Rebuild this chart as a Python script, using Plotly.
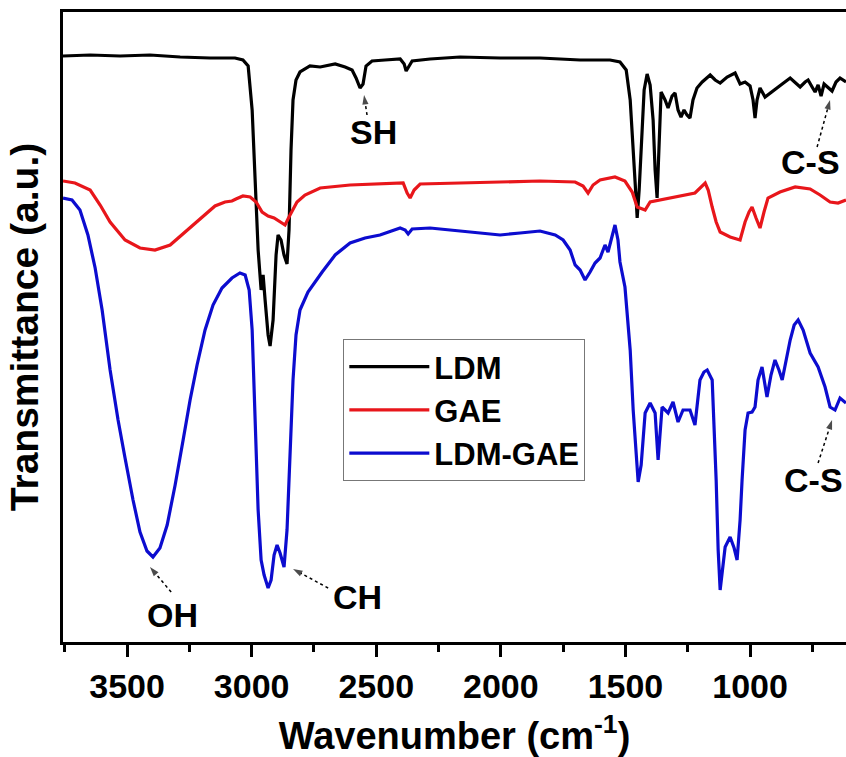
import plotly.graph_objects as go

# ---------------- data (wavenumber in cm-1, transmittance in a.u.) ----------------
ldm_wn = [3757, 3648, 3528, 3408, 3287, 3167, 3067, 3035, 3014, 2998, 2986, 2974, 2962, 2954, 2946,
          2934, 2926, 2914, 2902, 2894, 2882, 2870, 2858, 2850, 2842, 2834, 2822, 2806, 2766, 2725,
          2665, 2625, 2597, 2581, 2565, 2553, 2541, 2517, 2465, 2404, 2388, 2380, 2368, 2356, 2284,
          2164, 2003, 1843, 1682, 1562, 1522, 1497, 1481, 1469, 1457, 1453, 1445, 1433, 1425, 1413,
          1401, 1389, 1381, 1373, 1365, 1357, 1341, 1329, 1313, 1301, 1289, 1277, 1265, 1253, 1241,
          1229, 1213, 1192, 1160, 1140, 1120, 1092, 1060, 1040, 1020, 1000, 988, 980, 972, 960,
          940, 920, 900, 871, 839, 819, 799, 779, 767, 751, 739, 727, 715, 703, 687,
          671, 655, 639, 615]
ldm_t = [586, 587, 586, 587, 585, 584, 584, 582, 576, 532, 462, 392, 352, 367, 342,
         307, 296, 322, 387, 407, 402, 387, 378, 412, 492, 542, 562, 570, 576, 575,
         578, 575, 572, 564, 554, 558, 576, 581, 582, 583, 578, 571, 576, 581, 583,
         585, 584, 584, 582, 582, 580, 572, 542, 497, 442, 424, 452, 512, 552, 568,
         557, 522, 472, 444, 502, 550, 542, 534, 546, 549, 532, 525, 532, 527, 524,
         542, 554, 560, 567, 562, 559, 565, 569, 558, 560, 556, 542, 524, 542, 554,
         545, 549, 552, 558, 564, 559, 555, 560, 562, 555, 550, 557, 546, 558, 554,
         551, 560, 564, 560]

gae_wn = [3757, 3709, 3648, 3608, 3568, 3508, 3448, 3388, 3327, 3267, 3207, 3147, 3107, 3079, 3063,
          3035, 3006, 2982, 2958, 2934, 2910, 2886, 2866, 2846, 2818, 2786, 2725, 2605, 2485, 2392,
          2376, 2364, 2348, 2324, 2164, 2003, 1843, 1702, 1670, 1650, 1630, 1602, 1542, 1502, 1473,
          1453, 1421, 1401, 1361, 1301, 1221, 1180, 1168, 1152, 1136, 1120, 1080, 1040, 1020, 1004,
          992, 976, 960, 944, 928, 880, 819, 759, 719, 679, 647, 615]
gae_t = [461, 459, 452, 437, 420, 402, 394, 392, 397, 410, 424, 436, 440, 441, 443,
         446, 445, 440, 430, 426, 424, 420, 417, 427, 440, 447, 454, 457, 458, 459,
         449, 444, 452, 458, 459, 460, 461, 460, 456, 449, 457, 462, 465, 461, 450,
         435, 432, 440, 442, 445, 449, 459, 452, 435, 420, 410, 405, 402, 420, 430,
         435, 424, 414, 430, 444, 450, 455, 453, 447, 440, 439, 442]

mix_wn = [3757, 3721, 3689, 3657, 3628, 3600, 3568, 3536, 3508, 3476, 3448, 3420, 3396, 3368, 3339,
          3307, 3275, 3247, 3219, 3187, 3155, 3119, 3079, 3047, 3026, 3010, 2998, 2986, 2974, 2962,
          2950, 2934, 2922, 2910, 2898, 2886, 2870, 2858, 2846, 2834, 2822, 2806, 2774, 2746, 2717,
          2665, 2605, 2545, 2485, 2404, 2384, 2372, 2356, 2284, 2204, 2124, 2003, 1923, 1843, 1782,
          1750, 1722, 1702, 1682, 1662, 1642, 1622, 1602, 1582, 1570, 1558, 1542, 1530, 1522, 1502,
          1481, 1469, 1457, 1449, 1437, 1421, 1401, 1381, 1369, 1353, 1329, 1309, 1289, 1269, 1241,
          1221, 1201, 1185, 1172, 1152, 1136, 1128, 1120, 1112, 1100, 1080, 1064, 1052, 1040, 1032,
          1020, 1008, 992, 980, 968, 952, 940, 932, 916, 900, 884, 871, 855, 839, 823,
          807, 787, 759, 727, 711, 699, 679, 659, 639, 615]
mix_t = [444, 442, 432, 407, 374, 332, 272, 222, 184, 142, 110, 91, 85, 94, 117,
         157, 202, 242, 277, 312, 337, 354, 364, 369, 367, 352, 312, 225, 132, 82,
         67, 54, 62, 87, 97, 89, 75, 112, 192, 262, 307, 332, 350, 360, 370,
         387, 399, 404, 407, 414, 412, 408, 413, 414, 412, 410, 407, 409, 411, 407,
         402, 392, 377, 372, 362, 370, 379, 384, 397, 390, 402, 417, 402, 380, 355,
         292, 232, 182, 160, 177, 229, 239, 229, 182, 235, 229, 240, 220, 232, 232,
         217, 262, 270, 272, 262, 162, 92, 52, 67, 95, 105, 94, 82, 122, 162,
         212, 229, 230, 235, 262, 275, 257, 245, 267, 282, 272, 262, 282, 302, 317,
         322, 312, 289, 275, 264, 255, 235, 232, 244, 239]

series_names = ["LDM", "GAE", "LDM-GAE"]
series_colors = ["#000000", "#E8161B", "#0C0CCF"]

# band labels: text, text centre (wn, T), arrow tail (wn, T), arrow head (wn, T)
label_text = ["SH", "C-S", "C-S", "OH", "CH"]
label_wn = [2513, 759, 747, 3319, 2577]
label_t = [510, 480, 162, 27, 45]
tail_wn = [2537, 731, 727, 3323, 2693]
tail_t = [527, 495, 179, 50, 54]
head_wn = [2549, 679, 671, 3408, 2834]
head_t = [547, 542, 222, 75, 73]

FONT = "Liberation Sans, Arial, sans-serif"

fig = go.Figure()
for wn, t, name, col in zip([ldm_wn, gae_wn, mix_wn], [ldm_t, gae_t, mix_t], series_names, series_colors):
    fig.add_trace(go.Scatter(x=wn, y=t, mode="lines", name=name,
                             line=dict(color=col, width=3.2), hoverinfo="skip"))

# dotted arrows with arrow-head marker at the peak end
for i in range(len(label_text)):
    fig.add_trace(go.Scatter(
        x=[tail_wn[i], head_wn[i]], y=[tail_t[i], head_t[i]], mode="lines+markers",
        showlegend=False, hoverinfo="skip",
        line=dict(color="black", width=1.5, dash="dot"),
        marker=dict(symbol="arrow", size=[0, 10], angleref="previous", color="black",
                    line=dict(width=0))))

for txt, tx, ty in zip(label_text, label_wn, label_t):
    fig.add_annotation(x=tx, y=ty, text=txt, showarrow=False,
                       font=dict(family=FONT, size=34, color="black", weight="bold"))

fig.update_layout(
    width=846, height=757,
    margin=dict(l=63, r=0, t=12, b=115),
    plot_bgcolor="white", paper_bgcolor="white",
    font=dict(family=FONT, color="black"),
    showlegend=True,
    legend=dict(x=0.358, y=0.481, xanchor="left", yanchor="top",
                bgcolor="white", bordercolor="#777777", borderwidth=1,
                font=dict(family=FONT, size=31, color="black", weight="bold"),
                itemwidth=80, tracegroupgap=0),
    xaxis=dict(range=[3757, 615], showline=True, linecolor="black", linewidth=3, mirror=True,
               automargin=False,
               ticks="outside", ticklen=12, tickwidth=3, tickcolor="black",
               tick0=0, dtick=500, showgrid=False, zeroline=False,
               minor=dict(ticks="outside", ticklen=7, tickwidth=3, tickcolor="black", dtick=250),
               tickfont=dict(family=FONT, size=34, color="black", weight="bold"),
               title=dict(text="Wavenumber (cm<sup>-1</sup>)", standoff=32,
                          font=dict(family=FONT, size=38, color="black", weight="bold"))),
    yaxis=dict(range=[0, 630], showline=True, linecolor="black", linewidth=3, mirror=False,
               automargin=False,
               ticks="", showticklabels=False, showgrid=False, zeroline=False,
               title=dict(text="Transmittance (a.u.)", standoff=10,
                          font=dict(family=FONT, size=39, color="black", weight="bold"))),
)

fig.write_html("out.html")
